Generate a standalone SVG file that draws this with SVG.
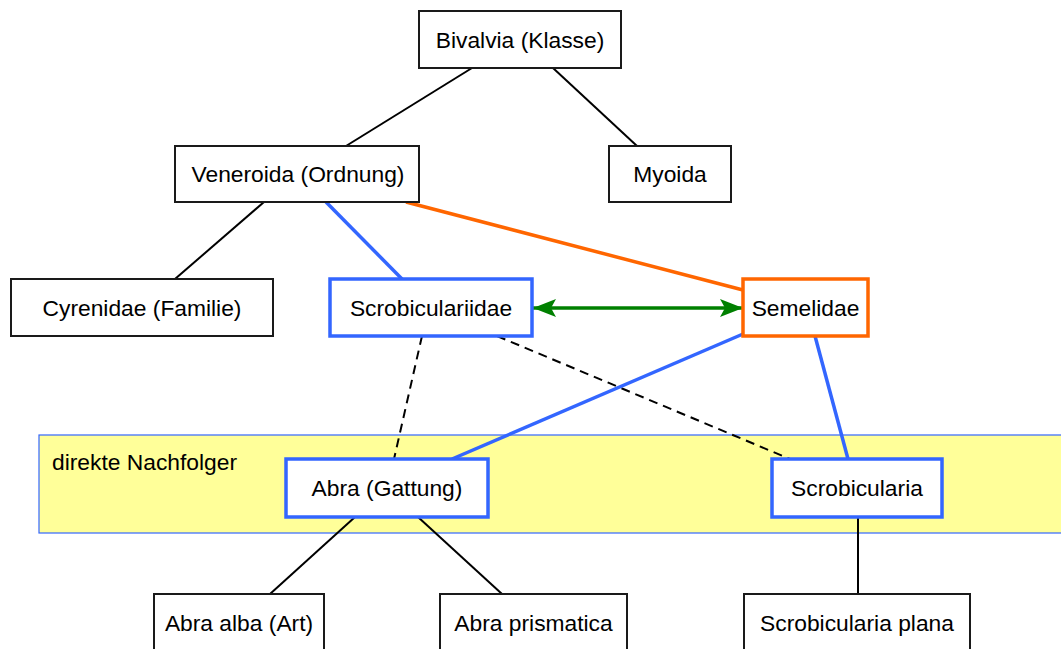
<svg xmlns="http://www.w3.org/2000/svg" width="1061" height="649" viewBox="0 0 1061 649">
<style>
text{font-family:"Liberation Sans",Arial,sans-serif;font-size:22.8px;fill:#000;text-anchor:middle}
.n{fill:#fff;stroke:#1a1a1a;stroke-width:2}
.b{fill:#fff;stroke:#3366ff;stroke-width:3.5}
.o{fill:#fff;stroke:#ff6600;stroke-width:3.5}
.k{stroke:#000;stroke-width:2;fill:none}
.d{stroke:#000;stroke-width:2;fill:none;stroke-dasharray:9,6}
.bl{stroke:#3366ff;stroke-width:3.5;fill:none}
.or{stroke:#ff6600;stroke-width:3.5;fill:none}
.gr{stroke:#008000;stroke-width:3.5;fill:none}
</style>
<defs>
<marker id="ga" viewBox="0 0 24 18" refX="23" refY="9" markerWidth="24" markerHeight="18" markerUnits="userSpaceOnUse" orient="auto-start-reverse">
<path d="M23,9 L0,0 L5,9 L0,18 Z" fill="#008000"/>
</marker>
</defs>
<rect width="1061" height="649" fill="#fff"/>
<g id="group-nachfolger">
<rect x="39" y="435" width="1040" height="98" fill="#ffff99" stroke="#3366ff" stroke-width="1.2"/>
<text x="52" y="470" style="text-anchor:start">direkte Nachfolger</text>
</g>
<g id="connectors">
<line class="k" x1="472" y1="68" x2="346" y2="146"/>
<line class="k" x1="553" y1="68" x2="637" y2="146"/>
<line class="k" x1="264" y1="202" x2="175" y2="279"/>
<line class="bl" x1="326" y1="202" x2="402" y2="279"/>
<line class="or" x1="406" y1="202" x2="743" y2="290"/>
<line class="gr" x1="533" y1="308" x2="743" y2="308" marker-start="url(#ga)" marker-end="url(#ga)"/>
<line class="d" x1="422" y1="336" x2="394" y2="459"/>
<line class="d" x1="497" y1="336" x2="790" y2="459"/>
<line class="bl" x1="743" y1="334" x2="452" y2="459"/>
<line class="bl" x1="815" y1="336" x2="848" y2="459"/>
<line class="k" x1="355" y1="517" x2="270" y2="594"/>
<line class="k" x1="418" y1="517" x2="502" y2="594"/>
<line class="k" x1="858" y1="517" x2="858" y2="594"/>
</g>
<g id="bivalvia"><rect class="n" x="419" y="11" width="202" height="57"/><text x="520" y="48">Bivalvia (Klasse)</text></g>
<g id="veneroida"><rect class="n" x="175" y="146" width="244" height="56"/><text x="298" y="182">Veneroida (Ordnung)</text></g>
<g id="myoida"><rect class="n" x="609" y="146" width="122" height="56"/><text x="670" y="182">Myoida</text></g>
<g id="cyrenidae"><rect class="n" x="11" y="279" width="262" height="57"/><text x="142" y="316">Cyrenidae (Familie)</text></g>
<g id="scrobiculariidae"><rect class="b" x="330" y="279" width="202" height="57"/><text x="431" y="316">Scrobiculariidae</text></g>
<g id="semelidae"><rect class="o" x="743" y="279" width="125" height="57"/><text x="805.5" y="316">Semelidae</text></g>
<g id="abra"><rect class="b" x="286" y="459" width="202" height="58"/><text x="387" y="496">Abra (Gattung)</text></g>
<g id="scrobicularia"><rect class="b" x="772" y="459" width="170" height="58"/><text x="857" y="496">Scrobicularia</text></g>
<g id="abra-alba"><rect class="n" x="154" y="594" width="170" height="60"/><text x="239" y="631">Abra alba (Art)</text></g>
<g id="abra-prismatica"><rect class="n" x="440" y="594" width="187" height="60"/><text x="533.5" y="631">Abra prismatica</text></g>
<g id="scrobicularia-plana"><rect class="n" x="744" y="594" width="226" height="60"/><text x="857" y="631">Scrobicularia plana</text></g>
</svg>
